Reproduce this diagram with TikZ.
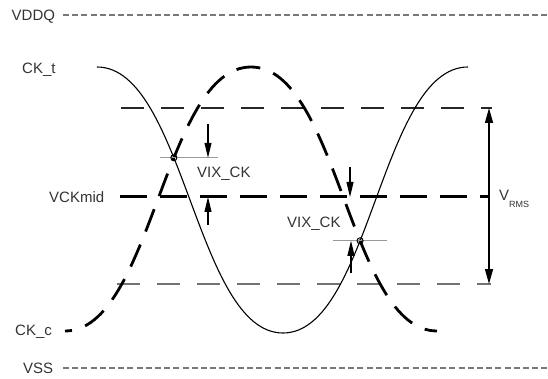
\documentclass[tikz,border=0pt]{standalone}
\usepackage{fontspec}
\setmainfont{Liberation Sans}
\usetikzlibrary{arrows.meta,intersections,calc}
\definecolor{txt}{HTML}{333333}
\definecolor{railc}{HTML}{787878}
\begin{document}
\begin{tikzpicture}[x=1pt,y=-1pt,
  lbl/.style={anchor=base west, inner sep=0pt, text=txt, font=\fontsize{15}{18}\selectfont},
  rail/.style={draw=railc, line width=2.7pt, dash pattern=on 6pt off 3.2pt},
  refhi/.style={draw=black!85, line width=1.2pt, dash pattern=on 23pt off 17pt},
  reflo/.style={draw=black!55, line width=1.2pt, dash pattern=on 23pt off 17pt},
  midline/.style={draw=black, line width=3pt, dash pattern=on 27pt off 13pt},
  cktline/.style={draw=black, line width=1.1pt},
  ckcline/.style={draw=black, line width=2.8pt, dash pattern=on 24pt off 14pt, dash phase=17pt},
  vixref/.style={draw=black!40, line width=0.8pt},
  tipv/.style={-{Triangle[length=15pt,width=7pt]}, line width=1.1pt},
  rmsarrow/.style={{Triangle[length=15pt,width=8pt]}-{Triangle[length=15pt,width=8pt]}, line width=1.4pt},
  xmark/.style={draw=black, line width=1pt}
]
\useasboundingbox (0,0) rectangle (548,379);

% labels
\node[lbl] (vddq) at (11.5,20.5) {VDDQ};
\node[lbl] (ckt) at (22,73.4) {CK\_t};
\node[lbl] (vckmid) at (49,202.4) {VCKmid};
\node[lbl] (ckc) at (15,335.4) {CK\_c};
\node[lbl] (vss) at (23,373.2) {VSS};
\node[lbl] (vix1) at (197,177.4) {VIX\_CK};
\node[lbl] (vix2) at (287,227.4) {VIX\_CK};
\node[lbl] (vrms) at (499,201) {V\raisebox{-6pt}{\fontsize{9}{10}\selectfont RMS}};

% rails
\coordinate (vddqA) at (63,15);  \coordinate (vddqB) at (548,15);
\coordinate (vssA) at (63,368);  \coordinate (vssB) at (548,368);
\draw[rail] (vddqA) -- (vddqB);
\draw[rail] (vssA) -- (vssB);

% reference levels
\coordinate (hiA) at (121,108); \coordinate (hiB) at (492,108);
\coordinate (loA) at (117,284); \coordinate (loB) at (491,284);
\coordinate (midA) at (120,197); \coordinate (midB) at (490,197);
\draw[refhi] (hiA) -- (hiB);
\draw[reflo] (loA) -- (loB);
\draw[midline] (midA) -- (midB);

% waveforms
\draw[cktline, name path=ckpath] (97,67) .. controls (184,67) and (196,333) .. (283,333)
  .. controls (370,333) and (381,67) .. (468,67);
\draw[ckcline, name path=ccpath] (65,331) .. controls (152,331) and (164,67) .. (251,67)
  .. controls (338,67) and (350,331) .. (437,331);

\path[name intersections={of=ckpath and ccpath, by={x1,x2}, sort by=ckpath}];

% crossing references
\draw[vixref] ($(x1)+(-14,0)$) -- ($(x1)+(44,0)$);
\draw[vixref] ($(x2)+(-27,0)$) -- ($(x2)+(27,0)$);
\draw[xmark] (x1) circle[radius=3pt];
\draw[xmark] (x2) circle[radius=3pt];

% VIX arrows
\coordinate (a1s) at (208,124);
\coordinate (a2s) at (208,225);
\coordinate (a2e) at (208,197);
\coordinate (b1s) at (350,167);
\coordinate (b1e) at (350,197);
\coordinate (b2s) at (351,273);
\draw[tipv] (a1s) -- (a1s |- x1);
\draw[tipv] (a2s) -- (a2e);
\draw[tipv] (b1s) -- (b1e);
\draw[tipv] (b2s) -- (b2s |- x2);

% VRMS arrow
\coordinate (rt) at (489,108);
\coordinate (rb) at (489,284);
\draw[rmsarrow] (rt) -- (rb);
\end{tikzpicture}
\end{document}
